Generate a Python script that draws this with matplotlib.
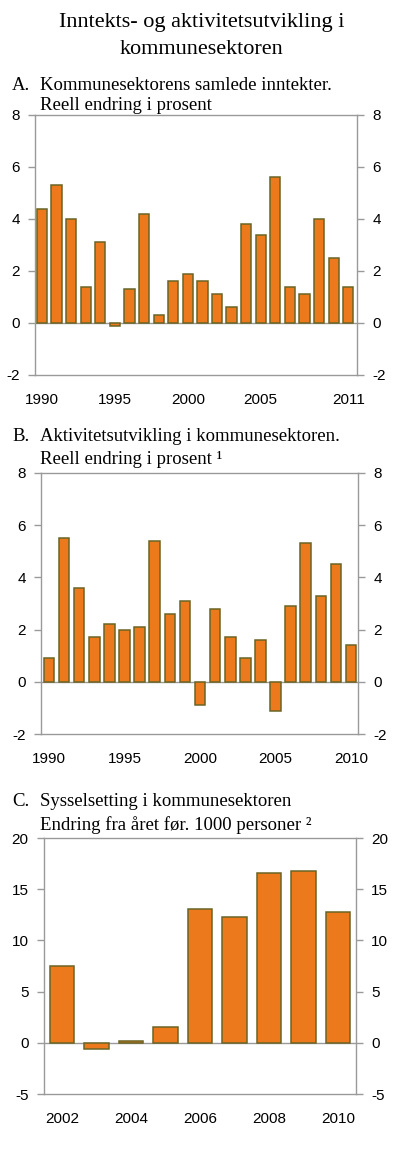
import numpy as np
import matplotlib
matplotlib.use('Agg')
import matplotlib.pyplot as plt

plt.rcParams['axes.unicode_minus'] = False

# panel A: inntekter, reell endring i prosent
years_a = list(range(1990, 2012))
vals_a = [4.4, 5.3, 4.0, 1.4, 3.1, -0.1, 1.3, 4.2, 0.3, 1.6, 1.9,
          1.6, 1.1, 0.6, 3.8, 3.4, 5.6, 1.4, 1.1, 4.0, 2.5, 1.4]
ticks_a = [1990, 1995, 2000, 2005, 2011]

# panel B: aktivitet, reell endring i prosent
years_b = list(range(1990, 2011))
vals_b = [0.9, 5.5, 3.6, 1.7, 2.2, 2.0, 2.1, 5.4, 2.6, 3.1, -0.9,
          2.8, 1.7, 0.9, 1.6, -1.1, 2.9, 5.3, 3.3, 4.5, 1.4]
ticks_b = [1990, 1995, 2000, 2005, 2010]

# panel C: sysselsetting, 1000 personer
years_c = list(range(2002, 2011))
vals_c = [7.5, -0.6, 0.2, 1.5, 13.1, 12.3, 16.6, 16.8, 12.8]
ticks_c = [2002, 2004, 2006, 2008, 2010]

W, H = 400, 1160
ORANGE = '#ec7a1c'
EDGE = '#6a6424'
GRAY = '#9a9a9a'
SERIF = 'Liberation Serif'
SANS = 'Liberation Sans'


def px_axes(fig, left, right, top, bottom):
    return fig.add_axes([left / W, 1 - bottom / H, (right - left) / W, (bottom - top) / H])


def bar_panel(ax, years, vals, ticks, ylim, yticks, xpad):
    x = np.array(years)
    ax.bar(x, vals, width=0.7, color=ORANGE, edgecolor=EDGE, linewidth=1.1, zorder=3)
    ax.axhline(0, color=GRAY, lw=1.0, zorder=2)
    ax.set_xlim(years[0] - xpad[0], years[-1] + xpad[1])
    ax.set_ylim(*ylim)
    ax.set_yticks(yticks)
    ax.set_xticks(ticks)
    for s in ax.spines.values():
        s.set_color(GRAY)
        s.set_linewidth(1.0)
    ax.tick_params(axis='y', direction='out', length=5, width=1, color=GRAY,
                   left=True, right=True, labelleft=True, labelright=True,
                   labelsize=11, pad=6)
    ax.tick_params(axis='x', length=0, labelsize=11, pad=13)
    for lab in ax.get_xticklabels() + ax.get_yticklabels():
        lab.set_fontfamily(SANS)


def heading(fig, letter, line1, line2, y1, y2, size=13.5):
    fig.text(12 / W, 1 - y1 / H, letter, family=SERIF, fontsize=size, va='center')
    fig.text(40 / W, 1 - y1 / H, line1, family=SERIF, fontsize=size, va='center')
    fig.text(40 / W, 1 - y2 / H, line2, family=SERIF, fontsize=size, va='center')


fig = plt.figure(figsize=(W / 100, H / 100), dpi=100)

fig.text(0.505, 1 - 22 / H, 'Inntekts- og aktivitetsutvikling i', family=SERIF,
         fontsize=16, ha='center', va='center')
fig.text(0.505, 1 - 50 / H, 'kommunesektoren', family=SERIF,
         fontsize=16, ha='center', va='center')

heading(fig, 'A.', 'Kommunesektorens samlede inntekter.', 'Reell endring i prosent', 85, 106)
ax = px_axes(fig, 35, 357, 115, 375)
bar_panel(ax, years_a, vals_a, ticks_a, (-2, 8), [-2, 0, 2, 4, 6, 8], (0.48, 0.6))

heading(fig, 'B.', 'Aktivitetsutvikling i kommunesektoren.', 'Reell endring i prosent \u00b9', 437, 460)
ax = px_axes(fig, 41, 358, 473, 734)
bar_panel(ax, years_b, vals_b, ticks_b, (-2, 8), [-2, 0, 2, 4, 6, 8], (0.53, 0.46))

heading(fig, 'C.', 'Sysselsetting i kommunesektoren', 'Endring fra året før. 1000 personer \u00b2', 802, 825)
ax = px_axes(fig, 44, 356, 838, 1094)
bar_panel(ax, years_c, vals_c, ticks_c, (-5, 20), [-5, 0, 5, 10, 15, 20], (0.52, 0.52))

fig.savefig('out.png', dpi=100)
